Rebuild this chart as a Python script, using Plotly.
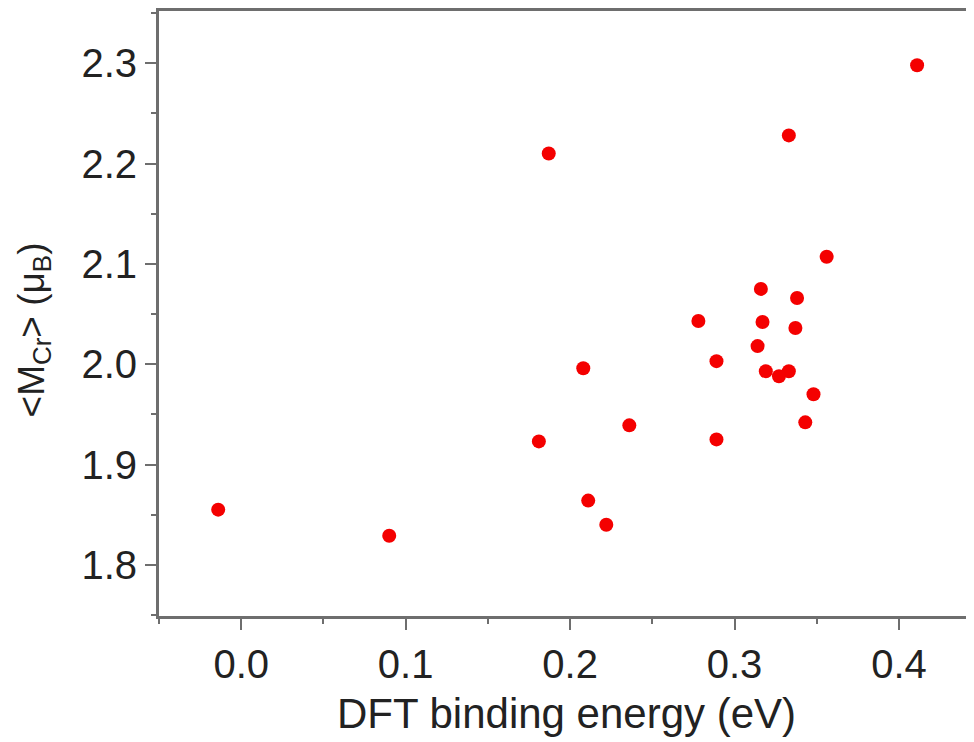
import plotly.graph_objects as go

binding_energy = [0.411, 0.333, 0.187, 0.356, 0.316, 0.338, 0.278, 0.317, 0.337, 0.314,
                  0.208, 0.289, 0.319, 0.327, 0.333, 0.348, 0.343, 0.236, 0.181, 0.289,
                  0.211, 0.222, -0.014, 0.090]
m_cr = [2.298, 2.228, 2.210, 2.107, 2.075, 2.066, 2.043, 2.042, 2.036, 2.018,
        1.996, 2.003, 1.993, 1.988, 1.993, 1.970, 1.942, 1.939, 1.923, 1.925,
        1.864, 1.840, 1.855, 1.829]

x_ticks = [0.0, 0.1, 0.2, 0.3, 0.4]
x_ticklabels = ["0.0", "0.1", "0.2", "0.3", "0.4"]
y_ticks = [1.8, 1.9, 2.0, 2.1, 2.2, 2.3]
y_ticklabels = ["1.8", "1.9", "2.0", "2.1", "2.2", "2.3"]

x_title = "DFT binding energy (eV)"
y_title = "&lt;M<sub>Cr</sub>&gt; (μ<sub>B</sub>)"

fig = go.Figure(go.Scatter(
    x=binding_energy, y=m_cr, mode="markers",
    marker=dict(color="#f40000", size=14, line=dict(width=0)),
    showlegend=False,
))

axis_common = dict(
    showline=True, linecolor="#6e6e6e", linewidth=3,
    ticks="outside", ticklen=11, tickwidth=2, tickcolor="#6e6e6e",
    showgrid=False, zeroline=False,
    tickfont=dict(family="Liberation Sans, Arial", size=40, color="#222222"),
    title_font=dict(family="Liberation Sans, Arial", size=42, color="#222222"),
)

fig.update_xaxes(
    range=[-0.05, 0.4456], tickvals=x_ticks, ticktext=x_ticklabels,
    mirror=True,
    minor=dict(ticks="outside", ticklen=5, tickwidth=2, tickcolor="#6e6e6e", dtick=0.05, tick0=0.05),
    title=dict(text=x_title, standoff=14),
    **axis_common,
)
fig.update_yaxes(
    range=[1.749, 2.352], tickvals=y_ticks, ticktext=y_ticklabels,
    minor=dict(ticks="outside", ticklen=5, tickwidth=2, tickcolor="#6e6e6e", dtick=0.05, tick0=1.75),
    **axis_common,
)

fig.add_annotation(
    text=y_title, textangle=-90, showarrow=False,
    xref="paper", yref="paper", x=0, y=0.472, xanchor="center", yanchor="middle",
    xshift=-125,
    font=dict(family="Liberation Sans, Arial", size=37, color="#222222"),
)

fig.update_layout(
    width=966, height=734,
    margin=dict(l=151, r=0, t=1, b=126),
    paper_bgcolor="white", plot_bgcolor="white",
)

fig.write_html("out.html")
